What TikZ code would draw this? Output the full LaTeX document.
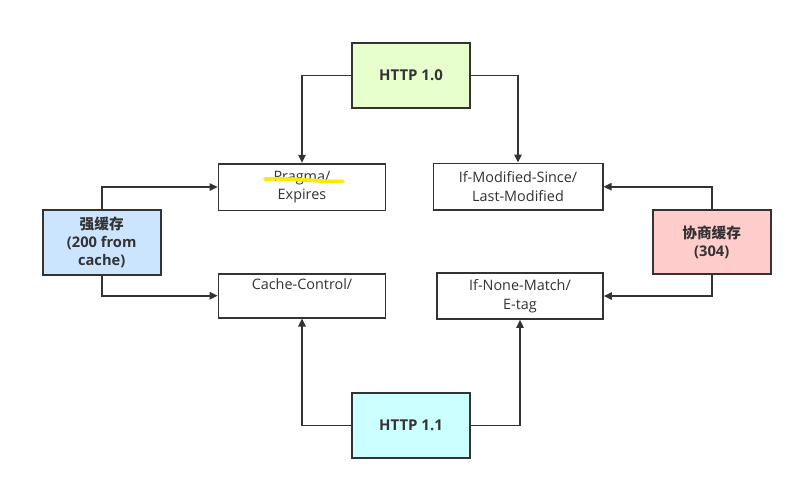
\documentclass[tikz,border=0pt]{standalone}
\usepackage{fontspec}
\setmainfont{Open Sans}
\newfontfamily\cjk{Noto Sans CJK SC}
\usetikzlibrary{arrows.meta}

\tikzset{every picture/.style={line width=0.75pt}}
\tikzset{
  box/.style={draw={rgb, 255:red, 51; green, 51; blue, 51 }, line width=1.25pt, align=center,
              inner sep=0pt, text={rgb, 255:red, 51; green, 51; blue, 51 },
              font=\fontsize{10.8}{14}\selectfont},
  verbox/.style={box, minimum width=88.5pt, minimum height=48.75pt, font=\bfseries\fontsize{11.2}{14}\selectfont},
  kindbox/.style={box, minimum width=88.5pt, minimum height=48.75pt, font=\bfseries\fontsize{11}{13.75}\selectfont},
  headbox/.style={box, minimum width=125.25pt, minimum height=35pt},
  link/.style={draw={rgb, 255:red, 51; green, 51; blue, 51 }, line width=1.2pt,
               -{Triangle[length=6pt,width=5.5pt]}}
}

\begin{document}
\begin{tikzpicture}[x=0.75pt,y=0.75pt,yscale=-1,xscale=1]
    \useasboundingbox (0,0) rectangle (800,487);

    %Shape: Rectangle HTTP 1.0 / HTTP 1.1
    \node [verbox, fill={rgb, 255:red, 230; green, 255; blue, 204 }] (h10) at (411, 75.5) {HTTP 1.0};
    \node [verbox, fill={rgb, 255:red, 204; green, 255; blue, 255 }] (h11) at (411, 425.5) {HTTP 1.1};

    %Shape: Rectangle cache kinds
    \node [kindbox, fill={rgb, 255:red, 204; green, 229; blue, 255 }] (strong) at (101.7, 242.5) {{\cjk 强缓存}\\(200 from\\cache)};
    \node [kindbox, fill={rgb, 255:red, 255; green, 204; blue, 204 }, minimum height=48pt] (nego) at (711.7, 242) {{\cjk 协商缓存}\\(304)};

    %Shape: Rectangle headers
    \node [headbox, fill=white] (pragma) at (302, 187)   {Pragma/\\Expires};
    \node [headbox, fill=white, minimum width=127pt] (ims) at (518, 186.7) {If-Modified-Since/\\Last-Modified};
    \node [headbox, fill=white, minimum height=33pt] (cc) at (302, 295.7) {Cache-Control/\\\strut};
    \node [headbox, fill=white, minimum width=124.5pt, minimum height=34.5pt] (inm) at (520, 296) {If-None-Match/\\E-tag};

    %Line: Pragma struck out
    \draw [draw={rgb, 255:red, 250; green, 235; blue, 0 }, line width=2.8pt, line cap=round]
          (265, 179) .. controls (295, 178) and (320, 182) .. (343, 181.5);

    %Arrows: HTTP versions
    \draw [link] (h10.west) -| (pragma.north);
    \draw [link] (h10.east) -| (ims.north);
    \draw [link] (h11.west) -| (cc.south);
    \draw [link] (h11.east) -| (inm.south);

    %Arrows: cache kinds
    \draw [link] (strong.north) |- (pragma.west);
    \draw [link] (strong.south) |- (cc.west);
    \draw [link] (nego.north) |- (ims.east);
    \draw [link] (nego.south) |- (inm.east);
\end{tikzpicture}
\end{document}
